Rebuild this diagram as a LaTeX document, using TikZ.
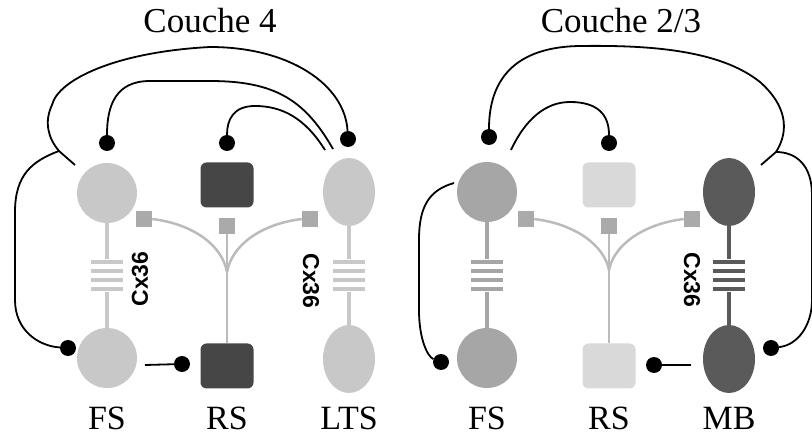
\documentclass[tikz,border=0pt]{standalone}
\usepackage{fontspec}
\setmainfont{Liberation Serif}
\newfontfamily\cxfont{Liberation Sans}
\usetikzlibrary{shapes.geometric}

\definecolor{pale}{HTML}{C8C8C8}
\definecolor{dark}{HTML}{464646}
\definecolor{mid}{HTML}{A6A6A6}
\definecolor{light}{HTML}{D9D9D9}
\definecolor{deep}{HTML}{5A5A5A}
\definecolor{twig}{HTML}{BBBBBB}
\definecolor{pad}{HTML}{AAAAAA}

\tikzset{
  fscell/.style={circle, draw=none, minimum size=60pt, inner sep=0pt},
  ellcell/.style={ellipse, draw=none, minimum width=52pt, minimum height=68pt, inner sep=0pt},
  rscell/.style={rectangle, rounded corners=6pt, draw=none, minimum width=53pt, minimum height=45pt, inner sep=0pt},
  padsq/.style={rectangle, fill=pad, minimum size=16pt, inner sep=0pt},
  twigline/.style={draw=twig, line width=2.5pt},
  gjline/.style={line width=4pt},
  inh/.style={draw=black, line width=1.8pt},
  syn/.style={circle, fill=black, minimum size=16pt, inner sep=0pt},
  celllabel/.style={font=\fontsize{34}{40}\selectfont, anchor=base, inner sep=0pt},
  layerlabel/.style={font=\fontsize{35}{42}\selectfont, anchor=base, inner sep=0pt},
  cxlabel/.style={font=\cxfont\bfseries\fontsize{23}{26}\selectfont, inner sep=0pt}
}

\begin{document}
\begin{tikzpicture}[x=1pt, y=-1pt]
\useasboundingbox (0,0) rectangle (812,438);

% layer 4
\node[layerlabel] (l4) at (210,33) {Couche 4};
\node[fscell, fill=pale] (fs4a) at (107,193) {};
\node[fscell, fill=pale] (fs4b) at (107,358) {};
\node[rscell, fill=dark] (rs4a) at (227,185) {};
\node[rscell, fill=dark] (rs4b) at (227,366) {};
\node[ellcell, fill=pale] (lts4a) at (349,192) {};
\node[ellcell, fill=pale] (lts4b) at (349,359) {};

\draw[gjline, pale] (fs4a) -- (fs4b);
\draw[gjline, pale] (lts4a) -- (lts4b);
\foreach \gx in {107,349} {
  \fill[white] (\gx-17,259) rectangle (\gx+17,292);
  \foreach \gy in {262,271,280,289}
    \draw[line width=4.5pt, pale] (\gx-16,\gy) -- (\gx+16,\gy);
}
\node[cxlabel, rotate=90] (cx4a) at (140,279) {Cx36};
\node[cxlabel, rotate=-90] (cx4b) at (311,281) {Cx36};

\node[padsq] (p4l) at (144,219) {};
\node[padsq] (p4m) at (227,226) {};
\node[padsq] (p4r) at (310,219) {};
\coordinate (t4) at (227,272);
\draw[twigline] (rs4b) -- (t4) -- (p4m);
\draw[twigline] (p4l.east) .. controls (193,224) and (222,245) .. (t4);
\draw[twigline] (p4r.west) .. controls (261,224) and (232,245) .. (t4);

\node[syn] (d4fs) at (107,143) {};
\node[syn] (d4rs) at (227,143) {};
\node[syn] (d4lts) at (348,139) {};
\node[syn] (d4fsb) at (68,348) {};
\node[syn] (d4rsb) at (182,364) {};
\coordinate (c4fs) at (75,165);
\coordinate (c4fork) at (59,151);
\coordinate (c4lts1) at (325,150);
\coordinate (c4lts2) at (333,149);
\coordinate (c4fsb) at (145,365);

\draw[inh] (c4fs) -- (c4fork) .. controls (48,138) and (44,122) .. (52,105)
  .. controls (58,80) and (115,52) .. (210,47)
  .. controls (290,47) and (345,85) .. (d4lts);
\draw[inh] (c4fork) .. controls (32,161) and (15,175) .. (15,212) -- (15,300)
  .. controls (15,330) and (38,346) .. (d4fsb);
\draw[inh] (c4lts2) .. controls (305,100) and (275,81) .. (210,81) -- (150,81)
  .. controls (116,81) and (107,105) .. (d4fs);
\draw[inh] (c4lts1) .. controls (305,118) and (282,106) .. (255,106)
  .. controls (233,106) and (227,120) .. (d4rs);
\draw[inh] (c4fsb) -- (d4rsb);

\node[celllabel] (n4fs) at (107,430) {FS};
\node[celllabel] (n4rs) at (227,430) {RS};
\node[celllabel] (n4lts) at (349,430) {LTS};

% layer 2/3
\node[layerlabel] (l23) at (621,33) {Couche 2/3};
\node[fscell, fill=mid] (fs23a) at (487,192) {};
\node[fscell, fill=mid] (fs23b) at (487,358) {};
\node[rscell, fill=light] (rs23a) at (609,185) {};
\node[rscell, fill=light] (rs23b) at (609,366) {};
\node[ellcell, fill=deep] (mb23a) at (729,192) {};
\node[ellcell, fill=deep] (mb23b) at (729,359) {};

\draw[gjline, mid] (fs23a) -- (fs23b);
\draw[gjline, deep] (mb23a) -- (mb23b);
\fill[white] (470,259) rectangle (504,292);
\fill[white] (712,259) rectangle (746,292);
\foreach \gy in {262,271,280,289} {
  \draw[line width=4.5pt, mid] (471,\gy) -- (503,\gy);
  \draw[line width=4.5pt, deep] (713,\gy) -- (745,\gy);
}
\node[cxlabel, rotate=-90] (cx23) at (692,280) {Cx36};

\node[padsq] (p23l) at (526,219) {};
\node[padsq] (p23m) at (609,226) {};
\node[padsq] (p23r) at (692,219) {};
\coordinate (t23) at (609,270);
\draw[twigline] (rs23b) -- (t23) -- (p23m);
\draw[twigline] (p23l.east) .. controls (575,224) and (604,245) .. (t23);
\draw[twigline] (p23r.west) .. controls (643,224) and (614,245) .. (t23);

\node[syn] (d23fs) at (489,137) {};
\node[syn] (d23rs) at (609,143) {};
\node[syn] (d23fsb) at (441,362) {};
\node[syn] (d23mbb) at (771,348) {};
\node[syn] (d23rsb) at (654,365) {};
\coordinate (c23mb) at (761,165);
\coordinate (c23fork) at (776,152);
\coordinate (c23fs1) at (511,150);
\coordinate (c23fs2) at (454,183);
\coordinate (c23mbb) at (691,365);

\draw[inh] (c23mb) -- (c23fork) .. controls (790,130) and (786,105) .. (760,82)
  .. controls (720,50) and (650,45) .. (580,46)
  .. controls (505,47) and (489,90) .. (d23fs);
\draw[inh] (c23fork) .. controls (796,152) and (812,165) .. (812,195) -- (812,300)
  .. controls (812,325) and (798,345) .. (d23mbb);
\draw[inh] (c23fs1) .. controls (525,120) and (545,102) .. (570,102)
  .. controls (598,102) and (609,115) .. (d23rs);
\draw[inh] (c23fs2) .. controls (430,190) and (419,205) .. (419,240) -- (419,310)
  .. controls (419,340) and (428,357) .. (d23fsb);
\draw[inh] (c23mbb) -- (d23rsb);

\node[celllabel] (n23fs) at (487,430) {FS};
\node[celllabel] (n23rs) at (609,430) {RS};
\node[celllabel] (n23mb) at (729,430) {MB};
\end{tikzpicture}
\end{document}
